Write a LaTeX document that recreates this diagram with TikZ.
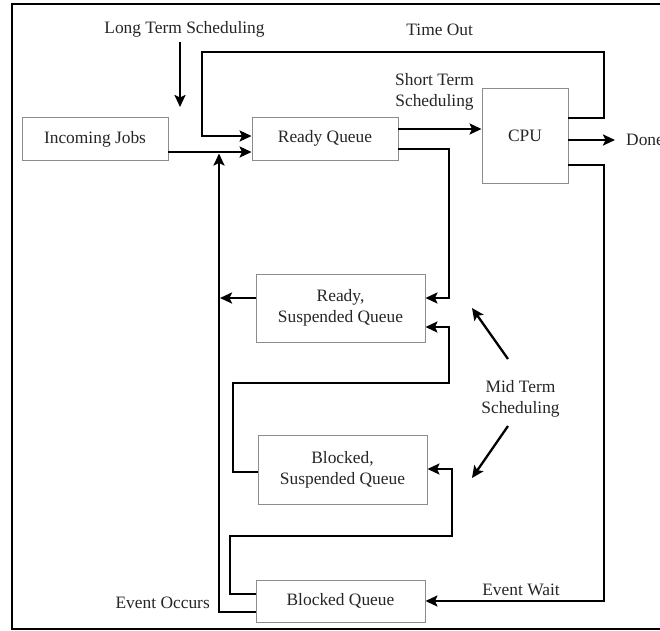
\documentclass[tikz,border=0pt]{standalone}
\usepackage{fontspec}
\setmainfont{Liberation Serif}
\usetikzlibrary{arrows.meta,calc}
\begin{document}
\begin{tikzpicture}[x=1pt,y=-1pt,
  font=\fontsize{17.4pt}{21pt}\selectfont,
  qbox/.style={draw=black!45, line width=0.9pt, inner sep=0pt, align=center, text=black!85},
  lbl/.style={inner sep=0pt, align=center, text=black!85},
  thn/.style={line width=1.3pt},
  thk/.style={line width=2.3pt, -{Stealth[length=12pt,width=11pt,inset=2.5pt]}},
  ]
\useasboundingbox (0,0) rectangle (660,630);
\fill[white] (0,0) rectangle (660,630);
\clip (0,0) rectangle (660,630);
\draw[line width=2pt] (700,4) -- (12,4) -- (12,628.5) -- (700,628.5);

% boxes
\node[qbox, minimum width=146pt, minimum height=43pt] (inc) at (95,139) {Incoming Jobs};
\node[qbox, minimum width=146pt, minimum height=43pt] (rq) at (325,138.5) {Ready Queue};
\node[qbox, minimum width=86pt, minimum height=95pt] (cpu) at (525,135.5) {CPU};
\node[qbox, minimum width=169pt, minimum height=68pt] (rs) at (340.5,308) {Ready,\\Suspended Queue};
\node[qbox, minimum width=169pt, minimum height=69pt] (bs) at (342.5,469.5) {Blocked,\\Suspended Queue};
\node[qbox, minimum width=169pt, minimum height=42pt] (bq) at (340.5,601) {Blocked Queue};

% labels
\node[lbl, anchor=base] (lts) at (184.5,33) {Long Term Scheduling};
\node[lbl, anchor=base] (tol) at (439.7,35) {Time Out};
\node[lbl] (sts) at (434.5,91.5) {Short Term\\Scheduling};
\node[lbl] (mts) at (520.5,398.5) {Mid Term\\Scheduling};
\node[lbl, anchor=base east] (eoc) at (210,608) {Event Occurs};
\node[lbl, anchor=base] (ewl) at (521,595) {Event Wait};
\node[lbl, anchor=west] (done) at (626,140) {Done};

% long term scheduling arrow
\coordinate (lt1) at (180,42);
\coordinate (lt2) at (180,107);
\draw[thk] (lt1) -- (lt2);

% incoming -> ready queue
\coordinate (i1) at ([yshift=-13pt]inc.east);
\draw[thk] (i1) -- (i1 -| rq.west);

% time out loop
\coordinate (t0) at ([yshift=17.5pt]cpu.east);
\coordinate (t1) at (604,52);
\coordinate (t2) at (202,136);
\draw[thn] (t0) -| (t1) -| (t2);
\draw[thk] ([xshift=-0.6pt]t2) -- (t2 -| rq.west);

% ready queue -> cpu
\coordinate (s1) at ([yshift=9.5pt]rq.east);
\draw[thk] (s1) -- (s1 -| cpu.west);

% cpu -> done
\coordinate (d1) at ([yshift=-4.5pt]cpu.east);
\draw[thk, shorten >=11pt] (d1) -- (d1 -| done.west);

% cpu -> blocked queue (event wait)
\coordinate (w0) at ([yshift=-29.5pt]cpu.east);
\coordinate (w1) at (604,601);
\draw[thn] (w0) -| (w1);
\draw[thk] ([xshift=0.6pt]w1) -- (w1 -| bq.east);

% ready queue -> ready, suspended
\coordinate (m1) at ([yshift=-10.5pt]rq.east);
\coordinate (m2) at (449,298);
\draw[thn] (m1) -| (m2);
\draw[thk] ([xshift=0.6pt]m2) -- (m2 -| rs.east);

% blocked, suspended -> ready, suspended
\coordinate (b1) at ([yshift=-2.5pt]bs.west);
\coordinate (b2) at (233,383);
\coordinate (b3) at (449,327);
\draw[thn] (b1) -| (b2) -| (b3);
\draw[thk] ([xshift=0.6pt]b3) -- (b3 -| rs.east);

% blocked -> blocked, suspended
\coordinate (c1) at ([yshift=7pt]bq.west);
\coordinate (c2) at (230,536);
\coordinate (c3) at (452,469);
\draw[thn] (c1) -| (c2) -| (c3);
\draw[thk] ([xshift=0.6pt]c3) -- (c3 -| bs.east);

% event occurs: blocked queue -> ready queue
\coordinate (e1) at ([yshift=-11pt]bq.west);
\coordinate (e2) at (219,612);
\coordinate (e3) at (219,153.5);
\draw[thn] (e1) -- (e2);
\draw[thk] ([yshift=-0.6pt]e2) -- (e3);

% ready, suspended -> ready queue line
\coordinate (r1) at ([yshift=10pt]rs.west);
\draw[thk, shorten >=1pt] (r1) -- (r1 -| e2);

% mid term scheduling arrows
\coordinate (u1) at (508,359);
\coordinate (u2) at (472,308);
\coordinate (v1) at (508,426);
\coordinate (v2) at (472,478);
\draw[thk] (u1) -- (u2);
\draw[thk] (v1) -- (v2);
\end{tikzpicture}
\end{document}
